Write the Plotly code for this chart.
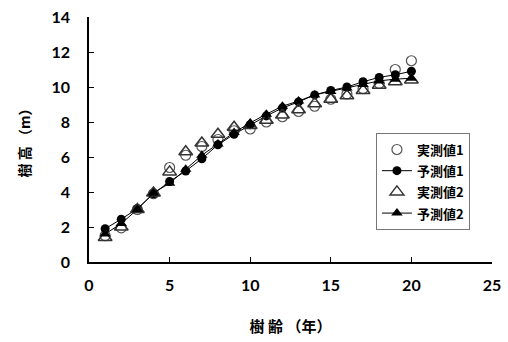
import plotly.graph_objects as go

# Tree age (years)
age = list(range(1, 21))

# Measured and predicted tree height (m), two stands
obs1 = [1.5, 1.95, 3.0, 3.9, 5.4, 6.1, 6.6, 7.0, 7.5, 7.6, 8.0, 8.3, 8.6, 8.9, 9.3, 9.6, 9.9, 10.2, 11.0, 11.5]
pred1 = [1.9, 2.45, 3.05, 3.9, 4.6, 5.2, 5.9, 6.7, 7.3, 7.85, 8.35, 8.8, 9.15, 9.55, 9.8, 10.0, 10.3, 10.55, 10.7, 10.9]
obs2 = [1.4, 2.0, 3.0, 3.95, 5.15, 6.3, 6.8, 7.3, 7.7, 7.8, 8.1, 8.4, 8.7, 9.05, 9.3, 9.5, 9.8, 10.1, 10.3, 10.4]
pred2 = [1.6, 2.2, 3.0, 3.95, 4.5, 5.3, 6.1, 6.75, 7.4, 7.95, 8.45, 8.9, 9.2, 9.55, 9.75, 9.95, 10.15, 10.35, 10.45, 10.5]

names = ["実測値1", "予測値1", "実測値2", "予測値2"]

x_ticks = [0, 5, 10, 15, 20, 25]
y_ticks = [0, 2, 4, 6, 8, 10, 12, 14]

jp_font = "Noto Sans CJK JP"
num_font = "Lato"


def legend_label(text):
    # smaller visible text inside a taller legend row
    return f'<span style="font-size:13px">{text}</span>'


fig = go.Figure()

fig.add_trace(go.Scatter(
    x=age, y=obs1, name=legend_label(names[0]), mode="markers",
    marker=dict(symbol="circle-open", size=10, color="#555555", line=dict(width=1.2)),
))
fig.add_trace(go.Scatter(
    x=age, y=pred1, name=legend_label(names[1]), mode="lines+markers",
    line=dict(color="black", width=1),
    marker=dict(symbol="circle", size=9, color="black"),
))
fig.add_trace(go.Scatter(
    x=age, y=obs2, name=legend_label(names[2]), mode="markers",
    marker=dict(symbol="triangle-up-open", size=12, color="#333333", line=dict(width=1.5)),
))
fig.add_trace(go.Scatter(
    x=age, y=pred2, name=legend_label(names[3]), mode="lines+markers",
    line=dict(color="black", width=1),
    marker=dict(symbol="triangle-up", size=10, color="black"),
))

fig.update_layout(
    width=508, height=342,
    margin=dict(l=89, r=16, t=17, b=80),
    paper_bgcolor="white", plot_bgcolor="white",
    showlegend=True,
    legend=dict(
        x=0.712, y=0.527, xanchor="left", yanchor="top",
        bgcolor="white", bordercolor="#777777", borderwidth=1,
        font=dict(family=jp_font, size=14, color="black", weight="bold"),
        tracegroupgap=0, itemwidth=30,
    ),
    xaxis=dict(
        range=[0, 25], tickvals=x_ticks, ticktext=[str(v) for v in x_ticks],
        showline=True, linecolor="black", linewidth=1.5, automargin=False,
        ticks="inside", ticklen=5, tickcolor="black", tickwidth=1.2,
        showgrid=False, zeroline=False, ticklabelstandoff=8,
        tickfont=dict(family=num_font, size=16, color="black", weight="bold"),
        title=dict(text="樹 齢 （年）", font=dict(family=jp_font, size=15, color="black", weight="bold"),
                   standoff=29),
    ),
    yaxis=dict(
        range=[0, 14], tickvals=y_ticks, ticktext=[str(v) for v in y_ticks],
        showline=True, linecolor="black", linewidth=1.5, automargin=False,
        ticks="inside", ticklen=5, tickcolor="black", tickwidth=1.2,
        showgrid=False, zeroline=False, ticklabelstandoff=14,
        tickfont=dict(family=num_font, size=16, color="black", weight="bold"),
        title=dict(text="樹 高 （m）", font=dict(family=jp_font, size=14, color="black", weight="bold"),
                   standoff=18),
    ),
)

fig.write_html("out.html")
